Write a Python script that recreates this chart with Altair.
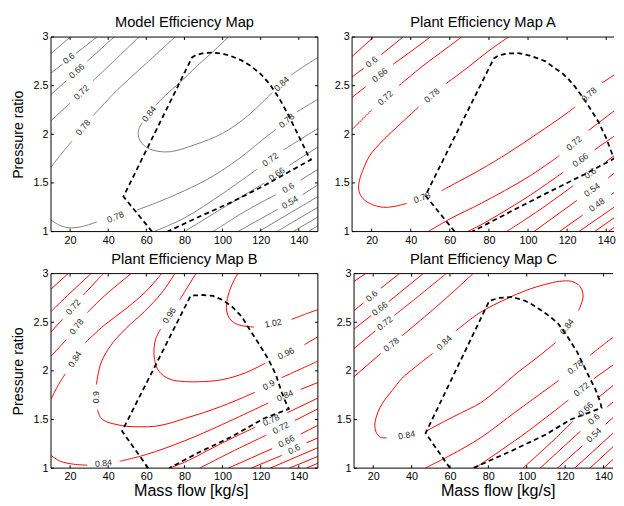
import altair as alt
import pandas as pd

FONT = "Liberation Sans"
X_TICKS = [20, 40, 60, 80, 100, 120, 140]
Y_TICKS = [1, 1.5, 2, 2.5, 3]
Y_DOMAIN = [1, 3]
TITLES = ["Model Efficiency Map", "Plant Efficiency Map A",
          "Plant Efficiency Map B", "Plant Efficiency Map C"]

# ---------------- Model Efficiency Map (top left) ----------------
TL_SEGS = [
    [(10, 2.83), (20, 3.0)],
    [(10, 2.63), (16, 2.72)], [(23, 2.83), (34, 3.0)],
    [(10, 2.41), (18, 2.55)], [(29, 2.75), (43, 3.0)],
    [(10, 2.14), (20, 2.32)], [(32, 2.55), (45, 2.79), (56, 3.0)],
    [(10, 1.66), (15, 1.79), (21, 1.93)], [(32, 2.19), (45, 2.46), (60, 2.73), (75, 3.0)],
    [(103, 3.0), (95, 2.85), (87, 2.71), (78, 2.54), (70, 2.40), (65, 2.30)],
    [(58, 2.12), (56, 2.05), (56, 1.97), (58.5, 1.89), (63, 1.84), (72, 1.82), (85, 1.89),
     (100, 2.01), (112, 2.17), (122, 2.35), (126, 2.43)],
    [(136, 2.61), (142, 2.69), (150, 2.79)],
    [(10, 1.12), (14, 1.07), (19, 1.04), (26, 1.05), (34, 1.10)],
    [(55, 1.22), (67, 1.31), (80, 1.42), (95, 1.57), (110, 1.77), (122, 1.96), (128, 2.05)],
    [(139, 2.23), (144, 2.29), (150, 2.36)],
    [(64, 1.0), (80, 1.14), (100, 1.39), (118, 1.64)], [(132, 1.84), (141, 1.95), (150, 2.06)],
    [(80, 1.0), (100, 1.24), (122, 1.50)], [(135, 1.68), (150, 1.87)],
    [(95, 1.0), (112, 1.21), (128, 1.38)], [(141, 1.53), (150, 1.64)],
    [(108, 1.0), (129, 1.23)], [(142, 1.38), (150, 1.48)],
    [(119, 1.0), (150, 1.36)],
    [(128.5, 1.0), (150, 1.25)],
    [(137, 1.0), (150, 1.15)],
    [(145, 1.0), (150, 1.06)],
]
TL_LABELS = [("0.6", 19.3, 2.78), ("0.66", 23.5, 2.65), ("0.72", 25.9, 2.43),
             ("0.78", 26.8, 2.07), ("0.84", 61.5, 2.21), ("0.84", 131, 2.52),
             ("0.78", 43.8, 1.15), ("0.78", 133.6, 2.14), ("0.72", 125, 1.74),
             ("0.66", 128.5, 1.59), ("0.6", 134.4, 1.45), ("0.54", 135.3, 1.30)]
TL_ANGLES = [322, 318, 316, 310, 307, 317, 338, 320, 324, 325, 329, 330]
TL_BOUND = [(63, 1.0), (48, 1.36), (84, 2.79), (86, 2.815), (90, 2.835), (95, 2.84),
            (100, 2.83), (105, 2.80), (110, 2.76), (115, 2.70), (120, 2.62), (125, 2.51),
            (130, 2.36), (135, 2.18), (140, 1.98), (144.7, 1.79), (146.4, 1.74),
            (121.6, 1.47), (104.5, 1.30), (87.4, 1.15), (71.2, 1.0)]

# ---------------- Plant Efficiency Map A (top right, cut at the picture edge) ----------------
TR_SEGS = [
    [(10, 2.80), (21, 3.0)],
    [(10, 2.59), (16, 2.68)], [(25, 2.82), (36, 3.0)],
    [(10, 2.38), (17, 2.49)], [(31, 2.72), (42, 2.88), (50, 3.0)],
    [(10, 2.05), (15, 2.15), (20, 2.25)], [(34, 2.50), (46, 2.70), (58, 2.88), (66, 3.0)],
    [(90, 3.0), (80, 2.86), (70, 2.70), (58, 2.52)],
    [(44, 2.28), (37, 2.15), (30, 2.02), (24, 1.90), (19, 1.78), (15.5, 1.63), (13.5, 1.50),
     (13.6, 1.41), (15.5, 1.34), (20, 1.28), (26, 1.25), (32, 1.26), (38, 1.29)],
    [(55.8, 1.42), (65, 1.52), (76, 1.64), (90, 1.81), (105, 2.01), (118, 2.19), (124, 2.28)],
    [(138, 2.53), (144, 2.61)],
    [(49, 1.0), (60, 1.13), (76, 1.29), (100, 1.56), (116, 1.78)], [(131, 2.04), (144, 2.24)],
    [(69, 1.0), (76, 1.07), (100, 1.36), (118, 1.61)], [(134, 1.84), (144, 1.98)],
    [(89, 1.0), (105, 1.21), (123, 1.47)], [(140, 1.72), (144, 1.78)],
    [(103, 1.0), (125, 1.32)], [(141, 1.55), (144, 1.60)],
    [(116, 1.0), (128, 1.17)], [(142.5, 1.38), (144, 1.40)],
    [(126, 1.0), (144, 1.25)],
    [(134, 1.0), (144, 1.14)],
    [(141, 1.0), (144, 1.04)],
]
TR_LABELS = [("0.6", 20, 2.745), ("0.66", 24.2, 2.61), ("0.72", 27, 2.375),
             ("0.78", 50.8, 2.40), ("0.78", 45.8, 1.35), ("0.78", 131.2, 2.41),
             ("0.72", 123.5, 1.91), ("0.66", 126.8, 1.735), ("0.6", 131.8, 1.60),
             ("0.54", 132.7, 1.43), ("0.48", 135.2, 1.275)]
TR_ANGLES = [322, 321, 318, 320, 340, 318, 319, 324, 324, 324, 324]
TR_BOUND = [(62.5, 1.0), (47.5, 1.37), (82.5, 2.78), (85, 2.81), (89, 2.83), (95, 2.835),
            (100.8, 2.81), (105, 2.78), (109, 2.75), (113, 2.69), (117.5, 2.63), (121, 2.56),
            (124, 2.49), (128, 2.38), (131, 2.29), (136, 2.13), (140, 1.96), (143, 1.80),
            (144, 1.75), (129, 1.59), (109, 1.39), (92.5, 1.22), (71.5, 1.0)]

# ---------------- Plant Efficiency Map B (bottom left) ----------------
BL_SEGS = [
    [(10, 2.84), (19, 3.0)],
    [(10, 2.61), (20, 2.80), (31, 3.0)],
    [(10, 2.40), (16, 2.53)], [(27, 2.78), (36, 2.97), (37.5, 3.0)],
    [(10, 2.15), (18, 2.32)], [(29, 2.60), (38, 2.77), (47, 2.92), (52, 3.0)],
    [(10, 1.71), (14, 1.86), (17.5, 1.97)], [(28, 2.29), (38, 2.47), (50, 2.65), (60, 2.82), (68, 3.0)],
    [(10, 1.13), (15, 1.07), (22, 1.04), (29, 1.03)],
    [(46, 1.07), (60, 1.14), (80, 1.28), (100, 1.45), (124, 1.67)],
    [(141, 1.81), (150, 1.88)],
    [(75, 3.0), (68, 2.80), (59, 2.61), (49, 2.43), (41.3, 2.26), (36.2, 2.08), (33.8, 1.86)],
    [(34.4, 1.60), (36, 1.52), (38.7, 1.48), (44, 1.45), (49.8, 1.43), (57, 1.425), (64.4, 1.43),
     (72, 1.46), (80, 1.51), (90, 1.57), (100, 1.64), (110, 1.72), (117, 1.78)],
    [(131, 1.93), (140, 2.01), (150, 2.10)],
    [(86, 3.0), (81, 2.84), (77.5, 2.73)],
    [(67.5, 2.43), (64.8, 2.32), (64, 2.18), (65, 2.06), (66.5, 2.0), (69, 1.95), (73, 1.91),
     (80, 1.89), (90, 1.89), (100, 1.91), (112, 1.98), (122.5, 2.08)],
    [(143, 2.27), (150, 2.35)],
    [(108, 3.0), (105, 2.89), (103, 2.78), (102, 2.65), (102.8, 2.57), (105, 2.51), (109, 2.47),
     (116.5, 2.45)],
    [(136.2, 2.53), (143, 2.58), (150, 2.63)],
    [(72, 1.0), (80, 1.06), (100, 1.26), (117, 1.42)], [(134, 1.57), (150, 1.72)],
    [(88, 1.0), (105, 1.17), (123, 1.34)], [(138, 1.49), (150, 1.61)],
    [(103, 1.0), (126, 1.20)], [(141, 1.35), (150, 1.44)],
    [(115, 1.0), (131, 1.13)], [(144, 1.26), (150, 1.31)],
    [(125, 1.0), (150, 1.21)],
    [(135, 1.0), (150, 1.12)],
    [(144, 1.0), (150, 1.05)],
]
BL_LABELS = [("0.72", 21.6, 2.655), ("0.78", 23.3, 2.455), ("0.84", 22.5, 2.12),
             ("0.9", 33.6, 1.73), ("0.96", 72, 2.57), ("1.02", 126.5, 2.49),
             ("0.96", 133.3, 2.18), ("0.9", 124.2, 1.855), ("0.84", 132.7, 1.745),
             ("0.84", 37.5, 1.05), ("0.78", 125.5, 1.495), ("0.72", 130.5, 1.415),
             ("0.66", 133.5, 1.275), ("0.6", 137.5, 1.195)]
BL_ANGLES = [311, 308, 303, 270, 303, 350, 335, 331, 337, 355, 336, 333, 333, 333]
BL_BOUND = [(61, 1.0), (47.3, 1.38), (83.2, 2.77), (85, 2.775), (90, 2.78), (95, 2.77),
            (100, 2.73), (105, 2.66), (110, 2.56), (115, 2.40), (120, 2.25), (124, 2.12),
            (128, 1.96), (131, 1.78), (133.5, 1.66), (134.8, 1.61), (121.6, 1.51),
            (104.5, 1.32), (87.4, 1.16), (72, 1.0)]

# ---------------- Plant Efficiency Map C (bottom right, cut at the picture edge) ----------------
BR_SEGS = [
    [(10, 2.92), (16, 3.0)],
    [(10, 2.62), (15, 2.70)], [(24, 2.85), (33.6, 3.0)],
    [(10, 2.43), (19, 2.57)], [(28, 2.71), (46, 3.0)],
    [(10, 2.23), (21, 2.41)], [(31, 2.57), (45, 2.79), (58, 3.0)],
    [(10, 1.94), (24, 2.18)], [(35, 2.36), (50, 2.61), (61, 2.80), (72, 3.0)],
    [(27, 1.31), (23.5, 1.32), (21.5, 1.37), (20.8, 1.44), (21.5, 1.52), (23.5, 1.62), (26.3, 1.71),
     (30, 1.80), (34.8, 1.92), (42, 2.04), (51, 2.18)],
    [(63, 2.41), (75.7, 2.60), (89.4, 2.74), (100, 2.83), (109.8, 2.89), (117, 2.92), (123.4, 2.92),
     (127.7, 2.87), (129.4, 2.77), (127, 2.62)],
    [(115, 2.29), (105, 2.13), (95, 1.98), (85, 1.81), (75.8, 1.67), (66, 1.57), (57, 1.48), (47.6, 1.38)],
    [(47, 1.0), (60, 1.13), (75.8, 1.31), (95, 1.59), (116.6, 1.90)], [(133, 2.16), (140, 2.27), (145, 2.345)],
    [(73, 1.0), (76, 1.04), (100, 1.37), (121.7, 1.70)], [(135, 1.92), (145, 2.06)],
    [(98, 1.0), (112, 1.25), (124, 1.48)], [(137, 1.72), (145, 1.85)],
    [(107, 1.0), (128, 1.38)], [(142, 1.63), (145, 1.68)],
    [(116, 1.0), (129, 1.23)], [(141, 1.45), (145, 1.52)],
    [(125, 1.0), (145, 1.36)],
    [(133, 1.0), (145, 1.22)],
    [(140, 1.0), (145, 1.09)],
]
BR_LABELS = [("0.6", 19.2, 2.77), ("0.66", 23.4, 2.64), ("0.72", 26, 2.49),
             ("0.78", 29.4, 2.27), ("0.84", 57, 2.29), ("0.84", 121, 2.455),
             ("0.84", 37.4, 1.34), ("0.78", 125.3, 2.04), ("0.72", 128.5, 1.81),
             ("0.66", 130.7, 1.605), ("0.6", 135, 1.505), ("0.54", 135, 1.34)]
BR_ANGLES = [320, 322, 321, 320, 316, 306, 350, 321, 320, 317, 318, 317]
BR_BOUND = [(60, 1.0), (47.3, 1.36), (80.5, 2.72), (85.6, 2.75), (92.4, 2.76), (99.2, 2.72),
            (103, 2.68), (107.7, 2.62), (112, 2.56), (116.2, 2.49), (121.3, 2.35), (126.4, 2.19),
            (131.5, 1.98), (135.8, 1.81), (138.3, 1.68), (139, 1.62), (123, 1.50), (109.4, 1.34),
            (92.4, 1.18), (72, 1.0)]


def seg_df(segs):
    rows = []
    for s, pts in enumerate(segs):
        for i, (x, y) in enumerate(pts):
            rows.append({"seg": s, "i": i, "x": x, "y": y})
    return pd.DataFrame(rows)


def path_df(pts):
    return pd.DataFrame([{"i": i, "x": x, "y": y} for i, (x, y) in enumerate(pts)])


def label_df(labels, angles):
    return pd.DataFrame([{"t": t, "x": x, "y": y, "a": a}
                         for (t, x, y), a in zip(labels, angles)])


def panel(title, segs, labels, angles, bound, color, xmax, w, h, ytitle, xtitle, xtitle_x, right_frame):
    xs = alt.Scale(domain=[10, xmax], nice=False, zero=False)
    ys = alt.Scale(domain=Y_DOMAIN, nice=False, zero=False)
    xkw = dict(values=X_TICKS, labelPadding=3)
    ykw = dict(values=Y_TICKS, format="~g", labelPadding=3)
    if xtitle:
        xax = alt.Axis(title=xtitle, titlePadding=1, titleFontSize=16.5, titleX=xtitle_x, **xkw)
    else:
        xax = alt.Axis(title=None, **xkw)
    if ytitle:
        yax = alt.Axis(title=ytitle, titlePadding=7.5, titleFontSize=14.5, **ykw)
    else:
        yax = alt.Axis(title=None, **ykw)
    X = alt.X("x:Q", scale=xs, axis=xax)
    Y = alt.Y("y:Q", scale=ys, axis=yax)

    lines = alt.Chart(seg_df(segs)).mark_line(
        interpolate="catmull-rom", color=color, strokeWidth=1, clip=True
    ).encode(x=X, y=Y, detail="seg:N", order="i:Q")

    bnd = alt.Chart(path_df(bound)).mark_line(
        color="black", strokeDash=[5, 3.5], strokeWidth=1.8, clip=True
    ).encode(x=X, y=Y, order="i:Q")

    txt = alt.Chart(label_df(labels, angles)).mark_text(
        fontSize=9, font=FONT, color="#2a2a2a", align="center", baseline="middle"
    ).encode(x=X, y=Y, text="t:N", angle=alt.Angle("a:Q", scale=None))

    xt = pd.DataFrame({"x": X_TICKS})
    yt = pd.DataFrame({"y": Y_TICKS})
    tk = dict(color="black", strokeWidth=1)
    ticks = [
        alt.Chart(xt).mark_rule(**tk).encode(x=X, y=alt.value(h), y2=alt.value(h - 3)),
        alt.Chart(xt).mark_rule(**tk).encode(x=X, y=alt.value(0), y2=alt.value(3)),
        alt.Chart(yt).mark_rule(**tk).encode(y=Y, x=alt.value(0), x2=alt.value(3)),
    ]
    one = pd.DataFrame({"k": [0]})
    frame = [
        alt.Chart(one).mark_rule(**tk).encode(x=alt.value(0), x2=alt.value(w), y=alt.value(0)),
        alt.Chart(one).mark_rule(**tk).encode(x=alt.value(0), x2=alt.value(w), y=alt.value(h)),
        alt.Chart(one).mark_rule(**tk).encode(x=alt.value(0), y=alt.value(0), y2=alt.value(h)),
    ]
    if right_frame:
        ticks.append(alt.Chart(yt).mark_rule(**tk).encode(y=Y, x=alt.value(w), x2=alt.value(w - 3)))
        frame.append(alt.Chart(one).mark_rule(**tk).encode(x=alt.value(w), y=alt.value(0), y2=alt.value(h)))

    return alt.layer(lines, bnd, txt, *ticks, *frame).properties(
        width=w, height=h,
        title=alt.Title(title, fontSize=15, fontWeight="normal", font=FONT, offset=1, color="black"),
    )


tl = panel(TITLES[0], TL_SEGS, TL_LABELS, TL_ANGLES, TL_BOUND, "#808080", 150, 273, 199,
           "Pressure ratio", None, 0, True)
tr = panel(TITLES[1], TR_SEGS, TR_LABELS, TR_ANGLES, TR_BOUND, "#ff0000", 144, 268, 199,
           None, None, 0, False)
bl = panel(TITLES[2], BL_SEGS, BL_LABELS, BL_ANGLES, BL_BOUND, "#ff0000", 150, 273, 199,
           "Pressure ratio", "Mass flow [kg/s]", 143, True)
br = panel(TITLES[3], BR_SEGS, BR_LABELS, BR_ANGLES, BR_BOUND, "#ff0000", 145, 265, 199,
           None, "Mass flow [kg/s]", 147, False)

chart = alt.vconcat(
    alt.hconcat(tl, tr, spacing=15),
    alt.hconcat(bl, br, spacing=17),
    spacing=5,
).properties(
    padding={"left": 2, "top": 1, "right": 0, "bottom": 0},
    background="white",
).configure_view(
    stroke="transparent"
).configure_axis(
    domain=False, ticks=False, grid=False,
    labelFont=FONT, labelFontSize=11, labelColor="black",
    titleFont=FONT, titleFontSize=14.5, titleFontWeight="normal", titleColor="black",
)

chart.save("out.html", embed_options={"renderer": "svg", "actions": False})
